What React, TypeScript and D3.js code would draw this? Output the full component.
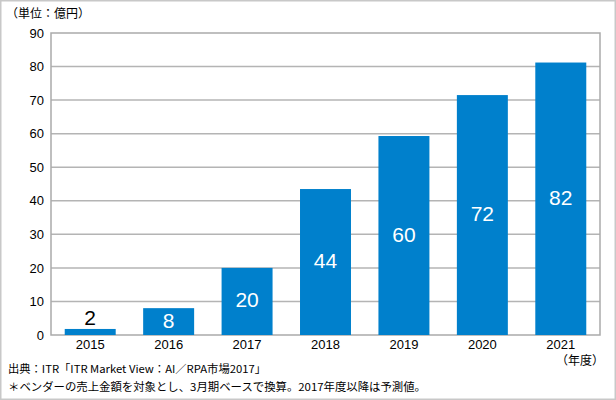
import React, { useEffect, useRef } from 'react';
import * as d3 from 'd3';

const years = ['2015', '2016', '2017', '2018', '2019', '2020', '2021'];
const values = [1.8, 8.0, 20.0, 43.5, 59.3, 71.5, 81.2];
const valueLabels = ['2', '8', '20', '44', '60', '72', '82'];
const yTicks = [0, 10, 20, 30, 40, 50, 60, 70, 80, 90];

const App: React.FC = () => {
    const ref = useRef<SVGSVGElement | null>(null);

    useEffect(() => {
        if (!ref.current) return;
        document.body.style.margin = '0';
        const width = 616;
        const height = 400;
        const margin = { top: 33, right: 16, bottom: 65, left: 51 };
        const innerW = width - margin.left - margin.right;
        const innerH = height - margin.top - margin.bottom;
        const font = '"Liberation Sans", Arial, sans-serif';
        const jpFont = '"Noto Sans CJK JP", sans-serif';

        const root = d3.select(ref.current);
        root.selectAll('*').remove();
        root.attr('width', width).attr('height', height);

        // outer frame
        root.append('rect')
            .attr('x', 0.75).attr('y', 0.75)
            .attr('width', width - 1.5).attr('height', height - 1.5)
            .attr('fill', '#fff')
            .attr('stroke', '#c8c8c8')
            .attr('stroke-width', 1.5);

        const svg = root.append('g')
            .attr('transform', `translate(${margin.left}, ${margin.top})`);

        const x = d3.scaleBand()
            .domain(years)
            .range([0, innerW])
            .paddingInner(0.35)
            .paddingOuter(0.175);

        const y = d3.scaleLinear()
            .domain([0, 90])
            .range([innerH, 0]);

        // gridlines
        svg.selectAll('line.grid')
            .data(yTicks.filter(t => t > 0 && t < 90))
            .enter()
            .append('line')
            .attr('class', 'grid')
            .attr('x1', 0).attr('x2', innerW)
            .attr('y1', d => y(d)).attr('y2', d => y(d))
            .attr('stroke', '#b4b4b4')
            .attr('stroke-width', 1.5);

        // plot box
        svg.append('rect')
            .attr('x', 0).attr('y', 0)
            .attr('width', innerW).attr('height', innerH)
            .attr('fill', 'none')
            .attr('stroke', '#aaaaaa')
            .attr('stroke-width', 1.5);

        // y axis labels
        const yAxis = svg.append('g')
            .call(d3.axisLeft(y).tickValues(yTicks).tickSize(0).tickPadding(7));
        yAxis.select('.domain').remove();
        yAxis.selectAll('text')
            .style('font-family', font)
            .style('font-size', '13px')
            .attr('fill', '#000');

        // x axis labels
        const xAxis = svg.append('g')
            .attr('transform', `translate(0, ${innerH})`)
            .call(d3.axisBottom(x).tickSize(0).tickPadding(5));
        xAxis.select('.domain').remove();
        xAxis.selectAll('text')
            .style('font-family', font)
            .style('font-size', '13px')
            .attr('fill', '#000');

        // bars
        svg.selectAll('rect.bar')
            .data(values)
            .enter()
            .append('rect')
            .attr('class', 'bar')
            .attr('x', (d, i) => x(years[i])!)
            .attr('y', d => y(d))
            .attr('width', x.bandwidth())
            .attr('height', d => innerH - y(d))
            .attr('fill', '#0080CC');

        // value labels
        svg.selectAll('text.bar-label')
            .data(values)
            .enter()
            .append('text')
            .attr('class', 'bar-label')
            .attr('x', (d, i) => x(years[i])! + x.bandwidth() / 2)
            .attr('y', d => (innerH - y(d) < 20 ? y(d) - 4 : (y(d) + innerH) / 2 + 6))
            .attr('text-anchor', 'middle')
            .style('font-family', font)
            .style('font-size', '21px')
            .attr('fill', d => (innerH - y(d) < 20 ? '#000' : '#fff'))
            .text((d, i) => valueLabels[i]);

        // texts
        root.append('text')
            .attr('x', 6).attr('y', 18)
            .style('font-family', jpFont)
            .style('font-size', '12px')
            .text('（単位：億円）');

        root.append('text')
            .attr('x', 604).attr('y', 365)
            .attr('text-anchor', 'end')
            .style('font-family', jpFont)
            .style('font-size', '12px')
            .text('（年度）');

        root.append('text')
            .attr('x', 8).attr('y', 373)
            .style('font-family', jpFont)
            .style('font-size', '11px')
            .attr('textLength', 258)
            .attr('lengthAdjust', 'spacingAndGlyphs')
            .text('出典：ITR「ITR Market View：AI／RPA市場2017」');

        root.append('text')
            .attr('x', 8).attr('y', 391)
            .style('font-family', jpFont)
            .style('font-size', '11px')
            .attr('textLength', 418)
            .attr('lengthAdjust', 'spacingAndGlyphs')
            .text('＊ベンダーの売上金額を対象とし、3月期ベースで換算。2017年度以降は予測値。');
    }, []);

    return <svg ref={ref} style={{ display: 'block' }} />;
};

export default App;
